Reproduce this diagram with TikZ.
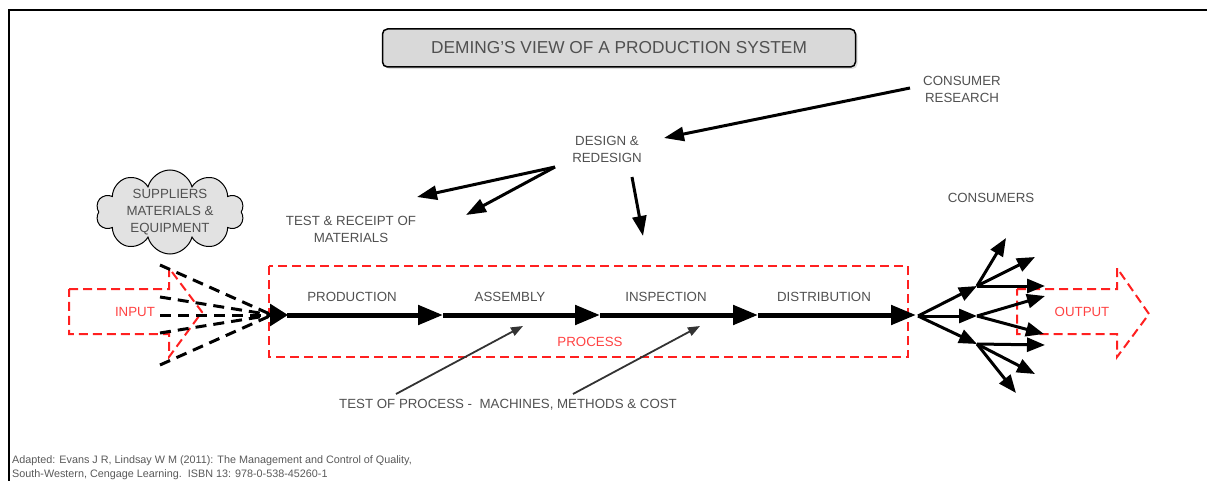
\documentclass[tikz,border=0pt]{standalone}
\usepackage{fontspec}
\setmainfont{Liberation Sans}
\usetikzlibrary{arrows.meta,shapes.symbols,shadows,positioning}
\definecolor{labelgray}{HTML}{505050}
\definecolor{boxgray}{HTML}{D9D9D9}
\definecolor{cloudgray}{HTML}{E2E2E2}
\definecolor{flowred}{HTML}{FF2020}
\tikzset{
	lbl/.style={text=labelgray, font=\fontsize{13.3}{17}\selectfont, align=center, inner sep=0pt},
	redlbl/.style={text=flowred!85, font=\fontsize{13.3}{17}\selectfont, inner sep=0pt},
	reddash/.style={draw=flowred, line width=2pt, dash pattern=on 9pt off 5pt},
	flow/.style={line width=5pt, -{Triangle[length=25pt,width=19pt]}},
	feed/.style={line width=3pt, -{Triangle[length=20pt,width=14pt]}},
	fanline/.style={line width=3pt, dash pattern=on 11pt off 7pt},
	spread/.style={line width=3pt, -{Triangle[length=18pt,width=14pt]}},
	probe/.style={line width=1.8pt, draw=black!80, -{Triangle[length=12pt,width=9pt]}},
}
\begin{document}
\begin{tikzpicture}[x=1pt, y=-1pt]
	%%%%% START %%%%%
	\useasboundingbox (0,0) rectangle (1207,481);
	
	\draw[line width=2pt] (9,481) -- (9,10) -- (1207,10);
	
	\node[draw, fill=boxgray, rounded corners=5pt, line width=1.5pt, minimum width=473pt, minimum height=38pt,
		drop shadow={opacity=0.25, shadow xshift=2pt, shadow yshift=-2pt},
		text=labelgray, font=\fontsize{17.3}{20}\selectfont] (title) at (619,48) {DEMING'S VIEW OF A PRODUCTION SYSTEM};
	
	% upper labels
	\node[lbl] (research) at (962,89) {CONSUMER\\RESEARCH};
	\node[lbl] (design) at (607,149) {DESIGN \&\\REDESIGN};
	\node[lbl] (receipt) at (351,229) {TEST \& RECEIPT OF\\MATERIALS};
	\node[lbl] (consumers) at (991,198) {CONSUMERS};
	
	\coordinate (resout) at (910,88);
	\coordinate (desin) at (664,138);
	\coordinate (desout) at (555,167);
	\coordinate (recA) at (417,197);
	\coordinate (recB) at (466,215);
	\coordinate (desdown) at (632,177);
	\coordinate (prodin) at (643,236);
	
	\draw[feed] (resout) -- (desin);
	\draw[feed] (desout) -- (recA);
	\draw[feed] (desout) -- (recB);
	\draw[feed] (desdown) -- (prodin);
	
	% suppliers
	\node[cloud, cloud puffs=10, aspect=1.8, draw, fill=cloudgray, line width=1pt, minimum width=148pt, minimum height=84pt, inner sep=0pt] (cloud) at (170,212) {};
	\node[lbl] (suppliers) at (cloud.center) {SUPPLIERS\\MATERIALS \&\\EQUIPMENT};
	
	% input and output
	\draw[reddash] (69,289) -- (169,289) -- (169,268) -- (202,312) -- (169,357) -- (169,334) -- (69,334) -- cycle;
	\node[redlbl] (input) at (135,312) {INPUT};
	\draw[reddash] (1017,289) -- (1117,289) -- (1117,268) -- (1149,314) -- (1117,357) -- (1117,334) -- (1017,334) -- cycle;
	\node[redlbl] (output) at (1082,312) {OUTPUT};
	
	% process box
	\draw[reddash] (269,266) rectangle (908,357);
	\node[redlbl] (process) at (590,342) {PROCESS};
	
	% dashed feed lines
	\coordinate (fanend) at (272,315);
	\foreach \y in {265,297,315,333,365}
		\draw[fanline] (160,\y) -- (fanend);
	\draw[line width=3pt, -{Triangle[length=18pt,width=22pt]}] (268,315) -- (288,315);
	
	% main flow
	\coordinate (p0) at (287,315);
	\coordinate (p1) at (443,315);
	\coordinate (p2) at (600,315);
	\coordinate (p3) at (758,315);
	\coordinate (p4) at (916,315);
	\draw[flow] (p0) -- (p1);
	\draw[flow] (p1) -- (p2);
	\draw[flow] (p2) -- (p3);
	\draw[flow] (p3) -- (p4);
	
	\node[lbl] (production) at (352,297) {PRODUCTION};
	\node[lbl] (assembly) at (510,297) {ASSEMBLY};
	\node[lbl] (inspection) at (666,297) {INSPECTION};
	\node[lbl] (distribution) at (824,297) {DISTRIBUTION};
	
	% test of process
	\node[lbl] (testproc) at (508,405) {TEST OF PROCESS - \ MACHINES, METHODS \& COST};
	\coordinate (tpA) at (396,394);
	\coordinate (tpB) at (573,394);
	\draw[probe] (tpA) -- (523,326);
	\draw[probe] (tpB) -- (700,326);
	
	% distribution to consumers
	\coordinate (dist) at (918,316);
	\coordinate (hub1) at (977,286);
	\coordinate (hub2) at (977,316);
	\coordinate (hub3) at (977,344);
	\draw[spread] (dist) -- (hub1);
	\draw[spread] (dist) -- (hub2);
	\draw[spread] (dist) -- (hub3);
	\draw[spread] (hub1) -- (1006,238);
	\draw[spread] (hub1) -- (1035,257);
	\draw[spread] (hub1) -- (1045,286);
	\draw[spread] (hub2) -- (1045,296);
	\draw[spread] (hub2) -- (1044,334);
	\draw[spread] (hub3) -- (1045,345);
	\draw[spread] (hub3) -- (1035,374);
	\draw[spread] (hub3) -- (1016,393);
	
	% source
	\node[anchor=west, align=left, inner sep=0pt, text=black!65, font=\fontsize{10.8}{14}\selectfont] (source) at (12,468)
		{Adapted: Evans J R, Lindsay W M (2011): The Management and Control of Quality,\\South-Western, Cengage Learning.\ \ ISBN 13: 978-0-538-45260-1};
	%%%%% END %%%%%
\end{tikzpicture}
\end{document}
